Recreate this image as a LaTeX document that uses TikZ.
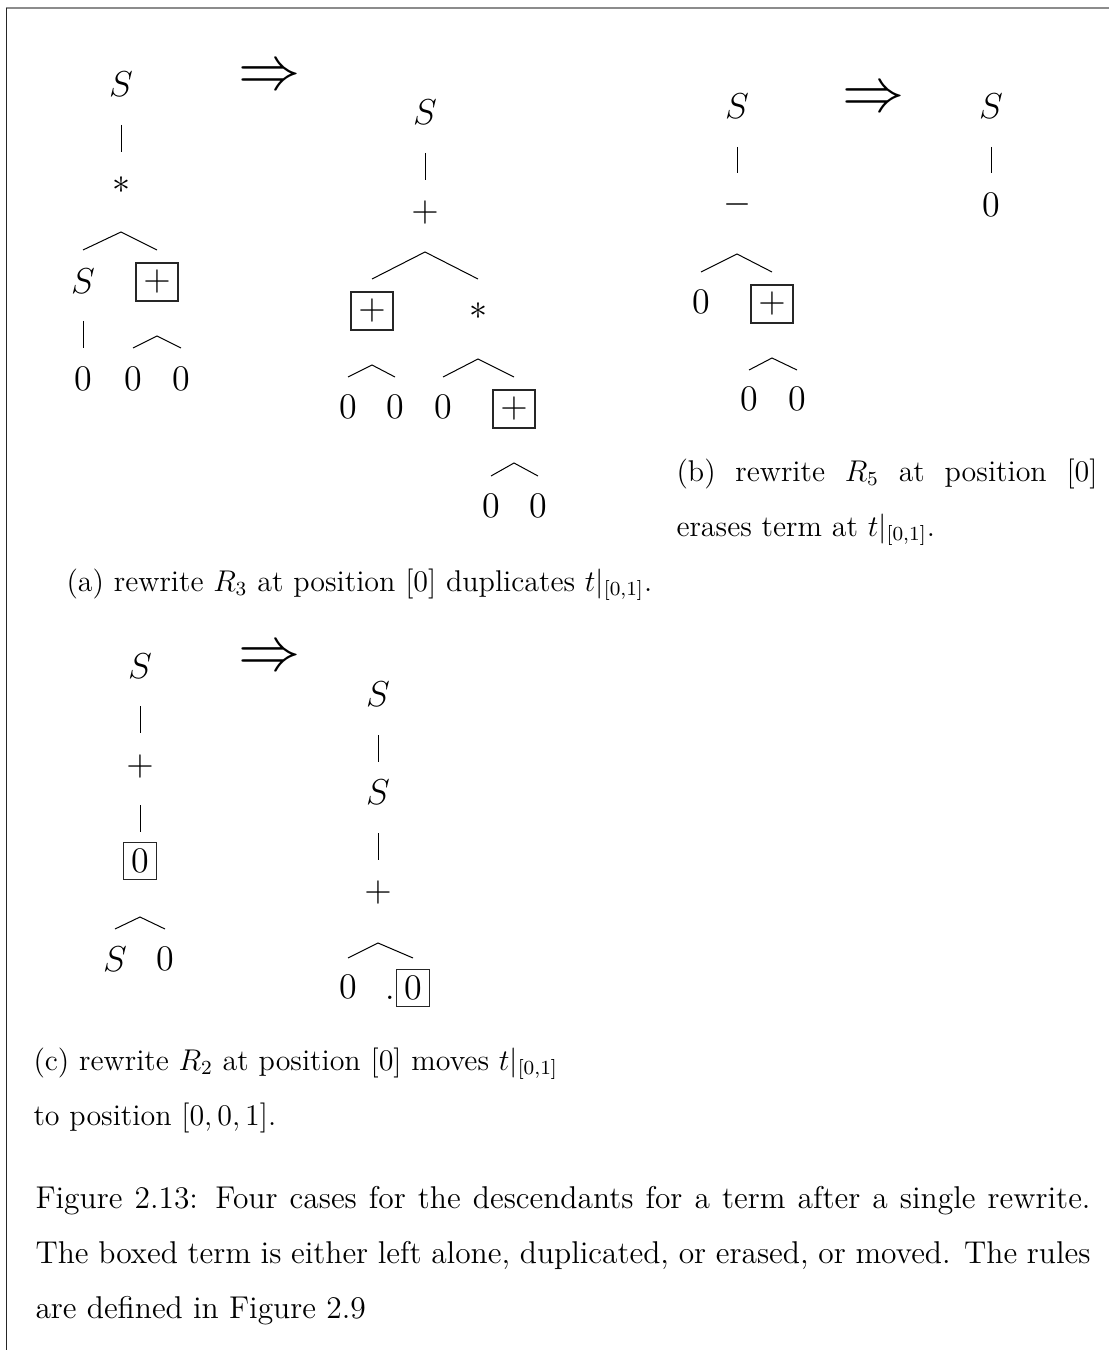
\documentclass[tikz,border=0pt]{standalone}
\usepackage{amsmath}
\tikzset{
  lbl/.style={inner sep=0pt, font=\fontsize{14}{17}\selectfont},
  plusbox/.style={lbl, draw=black!85, line width=0.45pt, minimum width=16.8pt, minimum height=15.2pt},
  zerobox/.style={lbl, draw=black!85, line width=0.45pt, minimum width=13.2pt, minimum height=14.8pt},
  conn/.style={line width=0.4pt},
  arrsym/.style={inner sep=0pt, font=\fontsize{24}{28}\selectfont},
  captext/.style={inner sep=0pt, font=\fontsize{12}{22}\selectfont},
  figtext/.style={inner sep=0pt, font=\fontsize{12.6}{22}\selectfont}
}
\begin{document}
\begin{tikzpicture}[x=0.4pt, y=-0.4pt]
\useasboundingbox (0,0) rectangle (1109,1350);
% frame
\draw[black!45, line width=0.6pt] (6,8) -- (1109,8);
\draw[black!85, line width=0.6pt] (6.5,8) -- (6.5,1350);

% ---------- (a) left tree
\node[lbl] (aS) at (121,84) {$S$};
\node[lbl] (aT) at (121,185) {$*$};
\node[lbl] (aS2) at (83,281) {$S$};
\node[plusbox] (aB) at (157,282) {$+$};
\node[lbl] (a01) at (83,379) {$0$};
\node[lbl] (a02) at (133,379) {$0$};
\node[lbl] (a03) at (181,379) {$0$};
\draw[conn] (aS |- 0,125) -- (aS |- 0,152);
\draw[conn] (aS2 |- 0,250) -- (aT |- 0,232) -- (aB |- 0,250);
\draw[conn] (aS2 |- 0,321) -- (aS2 |- 0,348);
\draw[conn] (a02 |- 0,348) -- (aB |- 0,336) -- (a03 |- 0,348);
\node[arrsym] (aArr) at (270,78) {$\Rightarrow$};

% ---------- (a) right tree
\node[lbl] (rS) at (425,112) {$S$};
\node[lbl] (rP) at (425,213) {$+$};
\node[plusbox] (rB1) at (372,311) {$+$};
\node[lbl] (rT) at (478,311) {$*$};
\node[lbl] (r01) at (348,407) {$0$};
\node[lbl] (r02) at (395,407) {$0$};
\node[lbl] (r03) at (443,407) {$0$};
\node[plusbox] (rB2) at (514,409) {$+$};
\node[lbl] (r04) at (491,506) {$0$};
\node[lbl] (r05) at (538,506) {$0$};
\draw[conn] (rS |- 0,153) -- (rS |- 0,180);
\draw[conn] (rB1 |- 0,279) -- (rP |- 0,252) -- (rT |- 0,279);
\draw[conn] (r01 |- 0,377) -- (rB1 |- 0,365) -- (r02 |- 0,377);
\draw[conn] (r03 |- 0,377) -- (rT |- 0,359) -- (rB2 |- 0,377);
\draw[conn] (r04 |- 0,476) -- (rB2 |- 0,463) -- (r05 |- 0,476);

\node[captext, anchor=base west] (capA) at (66,591) {(a) rewrite $R_3$ at position $[0]$ duplicates $t|_{[0,1]}$.};

% ---------- (b)
\node[lbl] (bS) at (737,106) {$S$};
\node[lbl] (bM) at (737,205) {$-$};
\node[lbl] (b01) at (701,302) {$0$};
\node[plusbox] (bB) at (772,304) {$+$};
\node[lbl] (b02) at (749,399) {$0$};
\node[lbl] (b03) at (797,399) {$0$};
\draw[conn] (bS |- 0,147) -- (bS |- 0,173);
\draw[conn] (b01 |- 0,272) -- (bM |- 0,254) -- (bB |- 0,272);
\draw[conn] (b02 |- 0,370) -- (bB |- 0,358) -- (b03 |- 0,370);
\node[arrsym] (bArr) at (874,100) {$\Rightarrow$};
\node[lbl] (cS) at (991,106) {$S$};
\node[lbl] (c0) at (991,205) {$0$};
\draw[conn] (cS |- 0,147) -- (cS |- 0,173);

\node[captext, text width=168.4pt, align=justify, anchor=north west] (capB) at (676,458)
  {(b) rewrite $R_5$ at position $[0]$ erases term at $t|_{[0,1]}$.};

% ---------- (c)
\node[lbl] (dS) at (140,666) {$S$};
\node[lbl] (dP) at (140,766) {$+$};
\node[zerobox] (dB) at (140,861) {$0$};
\node[lbl] (dS2) at (115,959) {$S$};
\node[lbl] (d0) at (165,959) {$0$};
\draw[conn] (dS |- 0,706) -- (dS |- 0,733);
\draw[conn] (dS |- 0,805) -- (dS |- 0,832);
\draw[conn] (dS2 |- 0,929) -- (dB |- 0,917) -- (d0 |- 0,929);
\node[arrsym] (dArr) at (270,659) {$\Rightarrow$};
\node[lbl] (eS) at (378,694) {$S$};
\node[lbl] (eS2) at (378,792) {$S$};
\node[lbl] (eP) at (378,892) {$+$};
\node[lbl] (e0) at (348,987) {$0$};
\node[zerobox] (eB) at (413,988) {$0$};
\node[lbl, anchor=base east] (eDot) at (eB.base west) {.};
\draw[conn] (eS |- 0,735) -- (eS |- 0,762);
\draw[conn] (eS |- 0,833) -- (eS |- 0,860);
\draw[conn] (e0 |- 0,958) -- (eP |- 0,943) -- (eB |- 0,958);

\node[captext, anchor=base west, align=left] (capC) at (33,1125)
  {(c) rewrite $R_2$ at position $[0]$ moves $t|_{[0,1]}$\\ to position $[0,0,1]$.};

% ---------- figure caption
\node[figtext, text width=422pt, align=justify, anchor=base west] (fig) at (35,1208)
  {Figure 2.13: Four cases for the descendants for a term after a single rewrite.\linebreak
   The boxed term is either left alone, duplicated, or erased, or moved. The rules\linebreak
   are defined in Figure 2.9};
\end{tikzpicture}
\end{document}
